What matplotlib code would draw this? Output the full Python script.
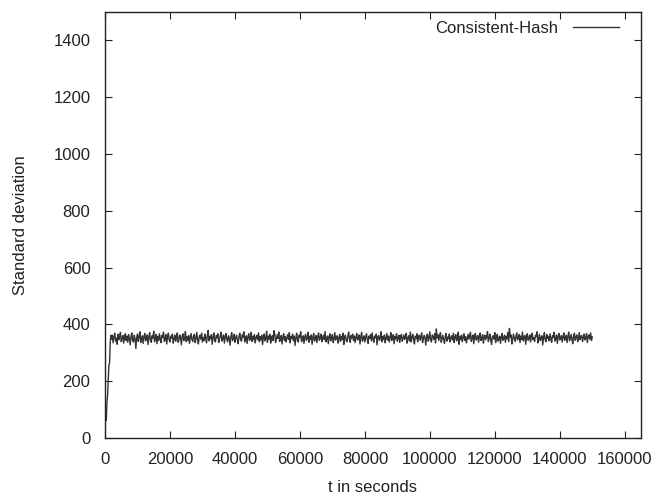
import matplotlib
matplotlib.use('Agg')
import matplotlib.pyplot as plt
import numpy as np

# 起始阶段（斜坡）
ramp_t = [0, 200, 400, 600, 800, 1000, 1200, 1400, 1600, 1800]
ramp_v = [40, 105, 62, 128, 150, 205, 258, 262, 335, 362]

# 稳定阶段：从 2000s 开始，每 250s 一个采样点，到 150000s
steady_start = 2000
steady_step = 250
steady_v = [
    348, 362, 335, 357, 369, 341, 352, 330, 365, 346, 358, 372, 339, 350, 361, 334, 355, 367, 343, 359,
    337, 364, 351, 328, 356, 370, 345, 338, 362, 349, 315, 353, 366, 340, 358, 374, 336, 347, 360, 333,
    357, 368, 342, 351, 363, 329, 355, 371, 344, 337, 360, 352, 376, 339, 348, 365, 332, 358, 343, 367,
    350, 336, 361, 354, 373, 340, 347, 364, 331, 356, 369, 345, 338, 359, 352, 366, 334, 349, 362, 341,
    355, 370, 337, 346, 363, 352, 328, 358, 367, 343, 351, 375, 339, 357, 344, 361, 333, 353, 368, 347,
    340, 359, 365, 336, 350, 372, 345, 331, 356, 362, 348, 369, 338, 354, 343, 366, 352, 335, 360, 379,
    342, 357, 349, 364, 330, 355, 370, 344, 338, 361, 353, 367, 336, 348, 359, 373, 341, 351, 363, 334,
    356, 368, 346, 339, 360, 352, 327, 357, 371, 343, 350, 365, 337, 354, 362, 345, 332, 358, 369, 348,
    341, 363, 355, 374, 338, 349, 360, 333, 356, 367, 344, 351, 372, 340, 358, 346, 364, 335, 353, 361,
    347, 370, 339, 357, 345, 362, 329, 354, 366, 342, 350, 376, 337, 359, 348, 365, 334, 352, 360, 343,
    378, 368, 336, 349, 363, 351, 373, 340, 346, 361, 331, 355, 367, 344, 358, 338, 352, 364, 347, 371,
    335, 357, 350, 366, 342, 359, 326, 353, 369, 345, 338, 362, 354, 374, 339, 348, 360, 333, 356, 365,
    343, 351, 372, 337, 358, 347, 363, 330, 355, 368, 341, 349, 361, 336, 357, 370, 344, 352, 366, 339,
    354, 362, 346, 375, 338, 350, 359, 332, 357, 367, 342, 353, 364, 336, 348, 371, 345, 356, 360, 334,
    351, 365, 340, 358, 347, 369, 329, 355, 362, 344, 339, 357, 373, 349, 337, 361, 352, 366, 343, 359,
    336, 354, 368, 345, 350, 363, 331, 357, 372, 341, 348, 360, 338, 355, 367, 346, 333, 359, 351, 364,
    342, 370, 349, 337, 358, 353, 366, 328, 356, 361, 344, 352, 374, 339, 357, 347, 363, 335, 350, 368,
    345, 359, 338, 355, 371, 343, 352, 364, 332, 358, 349, 367, 340, 353, 362, 336, 357, 365, 341, 350,
    363, 347, 356, 369, 334, 351, 360, 342, 373, 338, 354, 365, 346, 331, 358, 350, 367, 339, 355, 362,
    344, 357, 370, 336, 349, 361, 353, 327, 359, 366, 341, 352, 374, 345, 338, 363, 356, 347, 368, 335,
    384, 352, 364, 343, 358, 371, 337, 350, 362, 346, 333, 357, 368, 341, 355, 349, 366, 338, 353, 360,
    345, 369, 336, 356, 364, 342, 351, 373, 330, 358, 347, 362, 339, 354, 367, 344, 357, 335, 350, 365,
    348, 359, 372, 340, 353, 363, 332, 356, 368, 345, 351, 361, 337, 357, 370, 343, 349, 364, 334, 355,
    362, 346, 358, 375, 339, 352, 366, 343, 329, 357, 360, 348, 371, 336, 354, 365, 341, 350, 359, 333,
    356, 368, 344, 353, 362, 337, 358, 349, 372, 340, 386, 355, 363, 331, 348, 366, 352, 339, 357, 370,
    345, 351, 364, 336, 359, 347, 373, 342, 354, 361, 330, 356, 367, 344, 350, 363, 338, 358, 369, 346,
    353, 340, 362, 357, 374, 335, 349, 365, 343, 352, 360, 328, 355, 371, 346, 339, 364, 351, 358, 342,
    367, 348, 337, 360, 354, 372, 341, 350, 363, 333, 357, 368, 345, 353, 361, 338, 356, 370, 344, 349,
    362, 336, 358, 373, 342, 351, 365, 347, 332, 359, 369, 344, 355, 363, 339, 350, 371, 346, 357, 361,
    340, 354, 366, 345, 352, 368, 337, 358, 363, 348, 370, 343, 356,
]

x_ticks = [0, 20000, 40000, 60000, 80000, 100000, 120000, 140000, 160000]
y_ticks = [0, 200, 400, 600, 800, 1000, 1200, 1400]

steady_t = steady_start + steady_step * np.arange(len(steady_v))
t = np.concatenate([ramp_t, steady_t])
v = np.concatenate([ramp_v, steady_v])

plt.rcParams['font.family'] = ['Liberation Sans', 'DejaVu Sans']
plt.rcParams['path.simplify'] = False
txt = '#222222'
fs = 12

fig = plt.figure(figsize=(6.55, 4.98), dpi=100)
ax = fig.add_axes([105/655, 60/498, 536/655, 426/498])

ax.plot(t, v, color='#333333', lw=1.0, label='Consistent-Hash')

ax.set_xlim(0, 165000)
ax.set_ylim(0, 1500)
ax.set_xticks(x_ticks)
ax.set_yticks(y_ticks)
ax.set_xticklabels([str(x) for x in x_ticks])
ax.set_yticklabels([str(y) for y in y_ticks])

ax.tick_params(direction='in', top=True, right=True, length=5, width=0.8,
               labelsize=fs, labelcolor=txt, color='#222222')
ax.tick_params(axis='x', pad=10)
ax.tick_params(axis='y', pad=10.5)
for s in ax.spines.values():
    s.set_linewidth(1.0)
    s.set_color('#222222')

ax.set_xlabel('t in seconds', fontsize=fs, color=txt, labelpad=9.5)
ax.set_ylabel('Standard deviation', fontsize=fs, color=txt, labelpad=18)

ax.legend(loc='upper right', bbox_to_anchor=(0.972, 0.995), frameon=False,
          markerfirst=False, fontsize=fs, handlelength=2.8, handletextpad=0.9,
          borderaxespad=0.0, labelcolor=txt)

fig.savefig('out.png', dpi=100)
